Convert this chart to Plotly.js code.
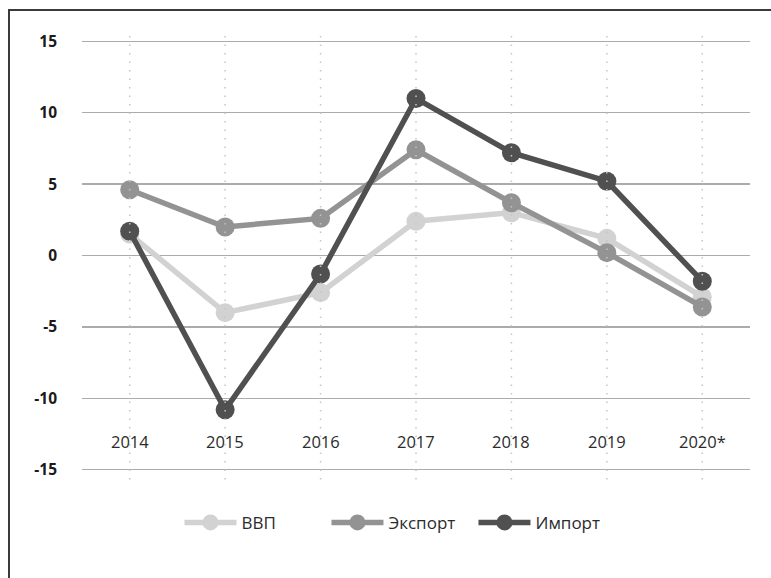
<!DOCTYPE html>
<html><head><meta charset="utf-8">
<script src="https://cdn.plot.ly/plotly-3.0.1.min.js"></script>
<style>
html,body{margin:0;padding:0;background:#fff;overflow:hidden}
#plot{position:absolute;left:0;top:0;width:771px;height:578px}
#frame{position:absolute;left:8px;top:9px;width:800px;height:600px;border-left:2px solid #3a3a3a;border-top:2px solid #3a3a3a;pointer-events:none}
</style></head>
<body>
<div id="plot"></div>
<div id="frame"></div>
<script>
var years = ['2014','2015','2016','2017','2018','2019','2020*'];
var gdp = [1.5, -4.0, -2.6, 2.4, 3.0, 1.2, -2.9];
var exportVals = [4.6, 2.0, 2.6, 7.4, 3.7, 0.2, -3.6];
var importVals = [1.7, -10.8, -1.3, 11.0, 7.2, 5.2, -1.8];
var seriesNames = ['ВВП', 'Экспорт', 'Импорт'];
var yTicks = [-15, -10, -5, 0, 5, 10, 15];
var labelY = -13;

var colors = ['#d2d2d2', '#939393', '#505050'];
var data = [gdp, exportVals, importVals];
var idx = years.map(function(y, i){ return i; });
var traces = data.map(function(v, i){
  return {x: idx, y: v, name: seriesNames[i], type: 'scatter', mode: 'lines+markers',
    line: {color: colors[i], width: 5.5}, marker: {color: colors[i], size: 19}};
});

var shapes = idx.map(function(i){
  return {type: 'line', xref: 'x', yref: 'paper', x0: i, x1: i, y0: 0.01, y1: 0.99,
    line: {color: '#c4c4c4', width: 1.5, dash: '1.5px,7px'}, layer: 'above'};
});

var annotations = years.map(function(y, i){
  return {x: i, y: labelY, xref: 'x', yref: 'y', text: y, showarrow: false,
    font: {family: 'Open Sans, sans-serif', size: 16.5, color: '#2b2b2b'}};
});

var layout = {
  width: 771, height: 578,
  margin: {l: 82, r: 21, t: 27, b: 94},
  paper_bgcolor: '#fff', plot_bgcolor: '#fff',
  showlegend: true,
  legend: {orientation: 'h', x: 0.476, xanchor: 'center', y: -0.085, yanchor: 'middle',
    font: {family: 'Open Sans, sans-serif', size: 17, color: '#2b2b2b'}, itemwidth: 52,
    entrywidth: 80},
  xaxis: {range: [-0.5, 6.5], showgrid: false, zeroline: false,
    showticklabels: false, showline: false, ticks: ''},
  yaxis: {range: [-16, 16], tickvals: yTicks, ticktext: yTicks.map(String),
    showgrid: true, gridcolor: '#ababab', gridwidth: 1.2, zeroline: false, showline: false,
    ticks: '', ticklabelstandoff: 24,
    tickfont: {family: 'Open Sans, sans-serif', size: 15.5, color: '#1a1a1a', weight: 'bold'}},
  shapes: shapes,
  annotations: annotations
};
Plotly.newPlot('plot', traces, layout, {displayModeBar: false, staticPlot: true});
</script>
</body></html>
